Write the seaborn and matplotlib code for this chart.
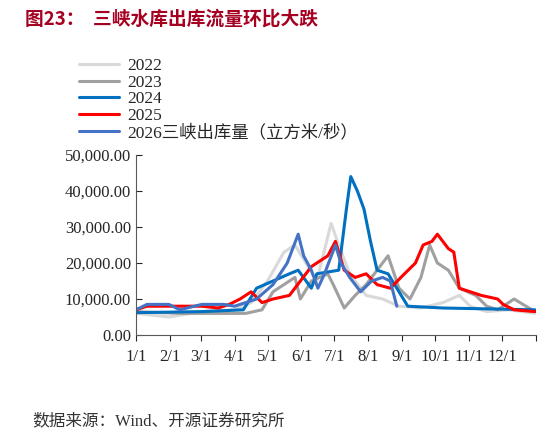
import matplotlib
matplotlib.use("Agg")
import matplotlib.pyplot as plt
import seaborn as sns
import pandas as pd
import numpy as np
from matplotlib.ticker import FuncFormatter

sns.set_style("white")
plt.rcParams['font.family'] = ['Liberation Serif', 'Noto Sans CJK SC', 'DejaVu Sans']

# day-of-year sample points and outflow values (m3/s)
d2022 = [0, 30, 60, 90, 105, 120, 135, 145, 155, 165, 178, 185, 195, 210, 225, 240, 260, 280, 295, 305, 320, 340, 364]
v2022 = [6000, 5000, 6500, 7000, 9000, 15000, 23000, 25000, 20000, 15000, 31000, 25000, 17000, 11000, 10000, 8000, 7500, 9000, 11000, 8000, 6500, 7000, 6000]
d2023 = [0, 40, 100, 115, 125, 145, 150, 160, 175, 180, 190, 200, 210, 230, 240, 250, 260, 268, 275, 285, 295, 310, 320, 330, 345, 364]
v2023 = [6500, 6000, 6000, 7000, 12000, 16000, 10000, 15000, 17000, 14000, 7500, 11000, 14000, 22000, 13000, 10000, 16000, 25000, 20000, 18000, 13000, 11000, 8000, 7000, 10000, 6500]
d2024 = [0, 60, 98, 110, 125, 140, 148, 160, 165, 185, 192, 196, 202, 208, 214, 220, 230, 240, 248, 280, 364]
v2024 = [6200, 6500, 7000, 13000, 15000, 17000, 18000, 13000, 17000, 18000, 35000, 44000, 40000, 35000, 26000, 18000, 17000, 12000, 8000, 7500, 7000]
d2025 = [0, 10, 60, 75, 85, 95, 105, 115, 125, 140, 145, 155, 160, 175, 182, 190, 200, 210, 220, 232, 245, 255, 262, 270, 275, 285, 290, 295, 305, 315, 330, 335, 345, 364]
v2025 = [7000, 8000, 8000, 7500, 8500, 10000, 12000, 9000, 10000, 11000, 13000, 17000, 19000, 22000, 26000, 18000, 16000, 17000, 14000, 13000, 17000, 20000, 25000, 26000, 28000, 24000, 23000, 13000, 12000, 11000, 10000, 8500, 7000, 6500]
d2026 = [0, 10, 30, 40, 60, 80, 90, 110, 125, 138, 148, 153, 160, 166, 172, 182, 187, 195, 205, 215, 225, 232, 238]
v2026 = [7000, 8500, 8500, 7000, 8500, 8500, 8000, 10000, 14000, 20000, 28000, 22000, 18000, 13000, 17000, 25000, 20000, 16000, 12000, 15000, 16000, 15000, 8000]

month_ticks = [0, 31, 59, 90, 120, 151, 181, 212, 243, 273, 304, 334]
month_labels = [f"{m}/1" for m in range(1, 13)]

series = [
    ("2022", d2022, v2022, "#D9D9D9"),
    ("2023", d2023, v2023, "#A0A0A0"),
    ("2024", d2024, v2024, "#0070C0"),
    ("2025", d2025, v2025, "#FF0000"),
    ("2026三峡出库量（立方米/秒）", d2026, v2026, "#4472C4"),
]

fig = plt.figure(figsize=(5.47, 4.38), dpi=100)
ax = fig.add_axes([136 / 547, 103 / 438, 400 / 547, 180 / 438])
for name, d, v, c in series:
    df = pd.DataFrame({"day": d, "val": v})
    sns.lineplot(data=df, x="day", y="val", ax=ax, color=c, linewidth=2.2, label=name)

ax.set_xlim(0, 365)
ax.set_ylim(0, 50000)
ax.set_yticks(np.arange(0, 50001, 10000))
ax.yaxis.set_major_formatter(FuncFormatter(lambda v, p: f"{v:,.2f}"))
ax.set_xticks(month_ticks + [365])
ax.set_xticklabels(month_labels + [""])
ax.set_xlabel("")
ax.set_ylabel("")
ax.tick_params(axis="both", labelsize=12, direction="in", length=4, left=True, bottom=True)
ax.tick_params(axis="x", direction="out", pad=6)
for s in ["top", "right"]:
    ax.spines[s].set_visible(False)
for s in ["left", "bottom"]:
    ax.spines[s].set_color("#595959")

ax.legend(loc="lower left", bbox_to_anchor=(-0.16, 1.04), frameon=False, fontsize=12.5,
          handlelength=2.3, labelspacing=0.02, borderaxespad=0, handletextpad=0.5)

fig.text(0.045, 0.945, "图23：  三峡水库出库流量环比大跌", color="#A50021", fontsize=13.5,
         fontweight="bold", family=['Noto Sans CJK SC'])
fig.text(0.06, 0.03, "数据来源：Wind、开源证券研究所", fontsize=12, color="#333333")

fig.savefig("out.png", dpi=100)
